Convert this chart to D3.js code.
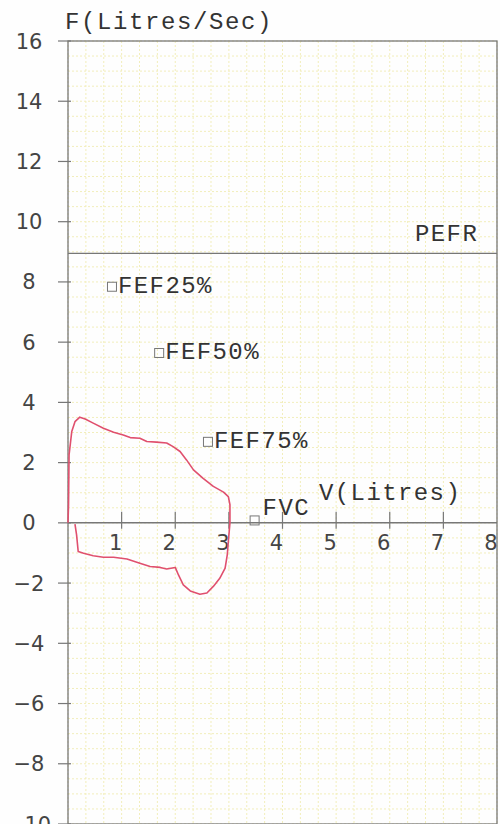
<!DOCTYPE html>
<html>
<head>
<meta charset="utf-8">
<script src="https://cdn.jsdelivr.net/npm/d3@7"></script>
<style>
  html, body { margin: 0; padding: 0; background: #fefefe; }
  svg { display: block; }
</style>
</head>
<body>
<div id="chart"></div>
<script>
// ---- data ----
const expVolume = [0, 0.01, 0.02, 0.07, 0.13, 0.22, 0.32, 0.47, 0.66, 0.85, 1.03, 1.16, 1.34, 1.47, 1.65, 1.84, 1.96, 2.09, 2.21, 2.34, 2.52, 2.71, 2.90, 2.99, 3.02, 3.02];
const expFlow   = [0, 0.60, 2.26, 3.03, 3.36, 3.51, 3.45, 3.31, 3.14, 3.01, 2.92, 2.83, 2.81, 2.70, 2.68, 2.65, 2.53, 2.37, 2.09, 1.76, 1.48, 1.21, 1.02, 0.87, 0.60, 0];
const inspVolume = [3.02, 2.99, 2.97, 2.93, 2.83, 2.71, 2.59, 2.46, 2.28, 2.15, 2.06, 2.00, 1.84, 1.72, 1.53, 1.34, 1.10, 0.85, 0.66, 0.47, 0.29, 0.19, 0.16, 0.13];
const inspFlow   = [0, -0.62, -1.06, -1.50, -1.84, -2.11, -2.33, -2.37, -2.26, -2.06, -1.73, -1.48, -1.53, -1.48, -1.45, -1.34, -1.20, -1.14, -1.14, -1.09, -1.01, -0.95, -0.40, -0.04];

const markerLabels = ["FEF25%", "FEF50%", "FEF75%", "FVC"];
const markerVolume = [0.82, 1.70, 2.61, 3.48];
const markerFlow   = [7.84, 5.64, 2.69, 0.08];

const pefrValue = 8.95;
const pefrLabel = "PEFR";

const yTickValues = [16, 14, 12, 10, 8, 6, 4, 2, 0, -2, -4, -6, -8, -10];
const xTickValues = [1, 2, 3, 4, 5, 6, 7, 8];
const yTitle = "F(Litres/Sec)";
const xTitle = "V(Litres)";

// ---- drawing ----
const W = 500, H = 824;
const svg = d3.select("#chart").append("svg").attr("width", W).attr("height", H);
svg.append("rect").attr("width", W).attr("height", H).attr("fill", "#fefefe");

const x = d3.scaleLinear().domain([0, 8]).range([68, 497]);
const y = d3.scaleLinear().domain([-10, 16]).range([824, 41]);

const mono = "'Liberation Mono', 'Courier New', monospace";
const sans = "'DejaVu Sans', sans-serif";
const textColor = "#333333";
const axisColor = "#777777";

// grid (pale yellow dotted)
const gridColor = "#f2eebb";
const gx = d3.range(0, 8.001, 1/3);
const gy = d3.range(-10, 16.001, 0.5);
const grid = svg.append("g");
grid.selectAll("line.v").data(gx).join("line")
  .attr("x1", d => x(d)).attr("x2", d => x(d))
  .attr("y1", y(16)).attr("y2", y(-10))
  .attr("stroke", gridColor).attr("stroke-width", 1).attr("stroke-dasharray", "2,2");
grid.selectAll("line.h").data(gy).join("line")
  .attr("x1", x(0)).attr("x2", x(8))
  .attr("y1", d => y(d)).attr("y2", d => y(d))
  .attr("stroke", gridColor).attr("stroke-width", 1).attr("stroke-dasharray", "2,2");

// frame
svg.append("rect")
  .attr("x", x(0)).attr("y", y(16))
  .attr("width", x(8) - x(0)).attr("height", y(-10) - y(16))
  .attr("fill", "none").attr("stroke", axisColor).attr("stroke-width", 1.3);

// x axis line at F = 0
svg.append("line")
  .attr("x1", x(0)).attr("x2", x(8)).attr("y1", y(0)).attr("y2", y(0))
  .attr("stroke", axisColor).attr("stroke-width", 1.5);

// PEFR line
svg.append("line")
  .attr("x1", x(0)).attr("x2", x(8)).attr("y1", y(pefrValue)).attr("y2", y(pefrValue))
  .attr("stroke", axisColor).attr("stroke-width", 1.3);
svg.append("text")
  .attr("x", 415).attr("y", y(pefrValue) - 12)
  .attr("font-family", mono).attr("font-size", 24).attr("letter-spacing", 1.4)
  .attr("fill", textColor).text(pefrLabel);

// y ticks and labels
const yt = svg.append("g");
yt.selectAll("line").data(yTickValues).join("line")
  .attr("x1", x(0) - 10).attr("x2", x(0) + 3)
  .attr("y1", d => y(d)).attr("y2", d => y(d))
  .attr("stroke", axisColor).attr("stroke-width", 1.2);
yt.selectAll("text").data(yTickValues).join("text")
  .attr("x", 29).attr("y", d => y(d)).attr("dy", "0.36em")
  .attr("text-anchor", "middle")
  .attr("font-family", sans).attr("font-size", 21).attr("fill", "#444")
  .text(d => d3.format("d")(d));

// x ticks and labels
const xt = svg.append("g");
xt.selectAll("line").data(xTickValues.filter(v => v < 8)).join("line")
  .attr("x1", d => x(d)).attr("x2", d => x(d))
  .attr("y1", y(0) - 11).attr("y2", y(0) + 6)
  .attr("stroke", axisColor).attr("stroke-width", 1.2);
xt.selectAll("text").data(xTickValues).join("text")
  .attr("x", d => x(d) - 6).attr("y", y(0) + 27)
  .attr("text-anchor", "middle")
  .attr("font-family", sans).attr("font-size", 21).attr("fill", "#444")
  .text(d => d);

// axis titles
svg.append("text")
  .attr("x", 65).attr("y", 29)
  .attr("font-family", mono).attr("font-size", 24).attr("letter-spacing", 1.6)
  .attr("fill", textColor).text(yTitle);
svg.append("text")
  .attr("x", 319).attr("y", 500)
  .attr("font-family", mono).attr("font-size", 24).attr("letter-spacing", 1.4)
  .attr("fill", textColor).text(xTitle);

// flow-volume loop
const loopPts = expVolume.map((v, i) => [v, expFlow[i]])
  .concat(inspVolume.map((v, i) => [v, inspFlow[i]]));
const line = d3.line().x(d => x(d[0])).y(d => y(d[1])).curve(d3.curveLinear);
svg.append("path")
  .attr("d", line(loopPts))
  .attr("fill", "none").attr("stroke", "#e0506e").attr("stroke-width", 1.6)
  .attr("stroke-linejoin", "round");

// markers
const mk = svg.append("g");
markerLabels.forEach((lab, i) => {
  const cx = x(markerVolume[i]), cy = y(markerFlow[i]);
  mk.append("rect")
    .attr("x", cx - 4.5).attr("y", cy - 4.5).attr("width", 9).attr("height", 9)
    .attr("fill", "none").attr("stroke", "#777").attr("stroke-width", 1);
  const isFvc = lab === "FVC";
  mk.append("text")
    .attr("x", cx + (isFvc ? 8 : 6)).attr("y", cy + (isFvc ? -5 : 6))
    .attr("font-family", mono).attr("font-size", 24).attr("letter-spacing", 1.4)
    .attr("fill", textColor).text(lab);
});
</script>
</body>
</html>
